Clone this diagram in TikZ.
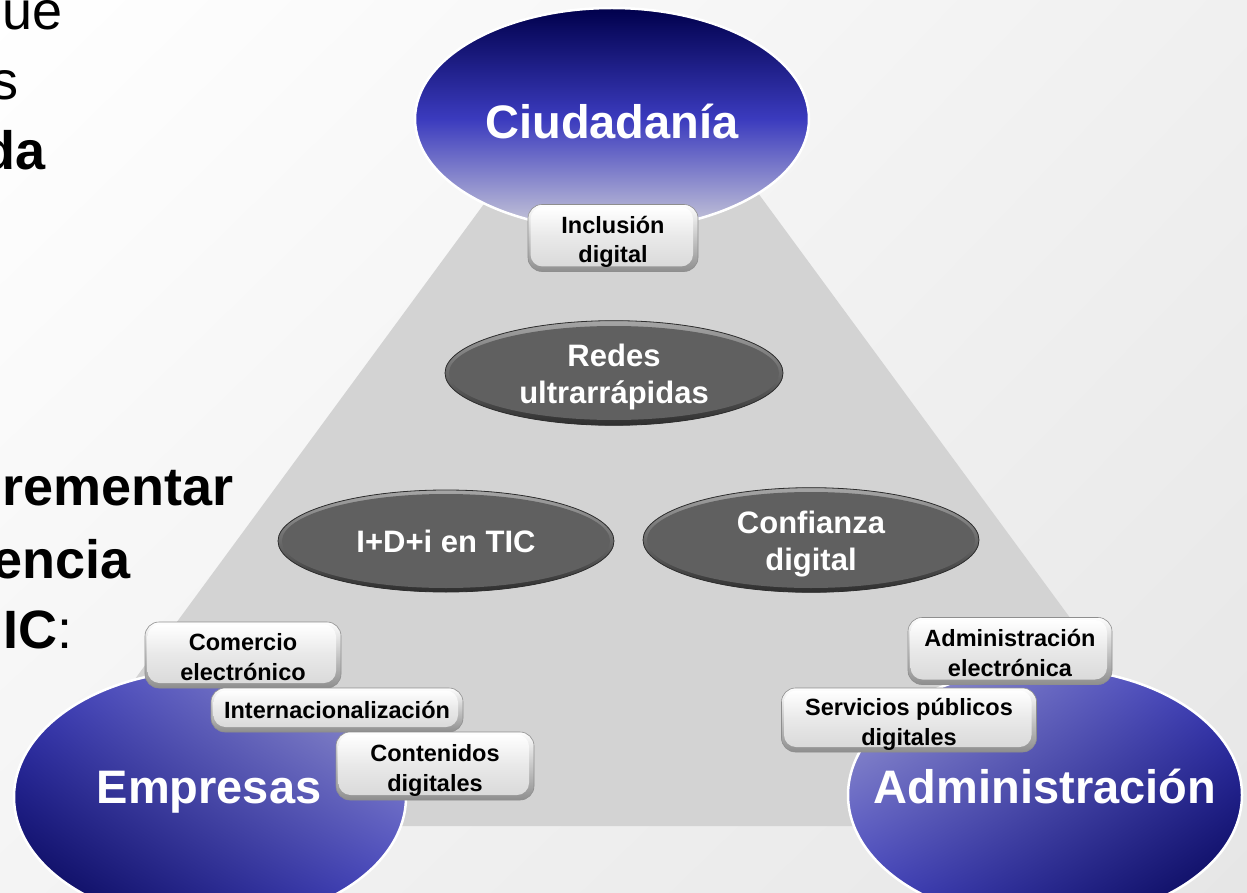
\documentclass[tikz,border=0pt]{standalone}
\usepackage{fontspec}
\setmainfont{Liberation Sans}
\usetikzlibrary{shapes.geometric,shadings}
\definecolor{trigray}{HTML}{D3D3D3}
\definecolor{navy}{HTML}{00004C}
\definecolor{midblue}{HTML}{3B3BBE}
\definecolor{lavlight}{HTML}{CBCBD9}
\definecolor{lavmid}{HTML}{A2A2CE}
\definecolor{darkfill}{HTML}{606060}
\definecolor{rimlight}{HTML}{A6A6A6}
\definecolor{rimdark}{HTML}{2E2E2E}
\definecolor{boxedge}{HTML}{8E8E8E}
\definecolor{boxbody}{HTML}{DADADA}
\definecolor{bgtr}{HTML}{F0F0F0}
\definecolor{bgbl}{HTML}{F4F4F4}
\definecolor{bgbr}{HTML}{E6E6E6}
\begin{document}
\begin{tikzpicture}[x=1pt,y=-1pt,
  bigell/.style n args={2}{ellipse, inner sep=0pt, minimum width=#1pt, minimum height=#2pt, draw=white, line width=2.5pt},
  bigtxt/.style={anchor=base, text=white, font=\fontsize{47}{50}\selectfont\bfseries, inner sep=0pt},
  darkell/.style n args={2}{ellipse, inner sep=0pt, minimum width=#1pt, minimum height=#2pt,
     fill=darkfill, draw=rimdark, line width=0.8pt, text=white, align=center,
     font=\fontsize{31}{37}\selectfont\bfseries,
     path picture={
       \shade[top color=rimlight, bottom color=rimdark] (path picture bounding box.south west) rectangle (path picture bounding box.north east);
       \fill[darkfill] (path picture bounding box.center) ellipse [x radius=#1pt/2-4pt, y radius=#2pt/2-4pt];
     }},
  twoline/.style={text height=67pt, text depth=7pt},
  lbox/.style n args={2}{rectangle, rounded corners=14pt, inner sep=0pt, minimum width=#1pt, minimum height=#2pt,
     draw=boxedge, line width=0.6pt, align=center, text=black, font=\fontsize{23.5}{29.5}\selectfont\bfseries,
     text height=55pt, text depth=5pt,
     path picture={
       \shade[top color=white, bottom color=boxedge] (path picture bounding box.south west) rectangle (path picture bounding box.north east);
       \shade[top color=white, bottom color=boxbody, middle color=boxbody!60!white, rounded corners=12pt] ([xshift=2.5pt,yshift=-2.5pt]path picture bounding box.north west) rectangle ([xshift=-5pt,yshift=5pt]path picture bounding box.south east);
     }},
  lefttxt/.style={anchor=base east, inner sep=0pt, text=black, font=\fontsize{54}{60}\selectfont},
  lefttxtb/.style={lefttxt, font=\fontsize{54}{60}\selectfont\bfseries}
]
\useasboundingbox (0,0) rectangle (1247,893);
\clip (0,0) rectangle (1247,893);
\shade[upper left=white, upper right=bgtr, lower left=bgbl, lower right=bgbr] (0,0) rectangle (1247,893);
% left cut-off slide text
\node[lefttxt] (t1) at (63,30) {ue};
\node[lefttxt] (t2) at (19,100) {s};
\node[lefttxtb] (t3) at (46,170) {da};
\node[lefttxtb] (t4) at (234,505) {rementar};
\node[lefttxtb] (t5) at (131,578) {encia};
\node[lefttxt] (t6) at (73,648) {\textbf{IC}:};
% triangle
\fill[trigray] (625,12) -- (27,826) -- (1223,826) -- cycle;
% big ellipses
\node[bigell={394}{222}, top color=navy, bottom color=lavlight, middle color=midblue] (ciud) at (612,119) {};
\node[bigell={392}{254}, upper right=lavmid, lower left=navy, upper left=midblue, lower right=midblue] (emp) at (210,797) {};
\node[bigell={394}{254}, upper left=lavmid, lower right=navy, upper right=midblue, lower left=midblue] (adm) at (1045,795) {};
\node[bigtxt] (ciudt) at (612,139) {Ciudadanía};
\node[bigtxt] (empt) at (209,803) {Empresas};
\node[bigtxt] (admt) at (1045,803) {Administración};
% dark ellipses
\node[darkell={338}{102}, twoline] (redes) at (614,373) {Redes\\ultrarrápidas};
\node[darkell={336}{102}] (idi) at (446,541) {I+D+i en TIC};
\node[darkell={336}{104}, twoline] (conf) at (811,540) {Confianza\\digital};
% light boxes
\node[lbox={170}{67}] (incl) at (613,238) {Inclusión\\digital};
\node[lbox={196}{66}] (comer) at (243,655) {Comercio\\electrónico};
\node[lbox={252}{44}, text height=17pt, text depth=0pt] (inter) at (337,710) {Internacionalización};
\node[lbox={198}{68}] (cont) at (435,766) {Contenidos\\digitales};
\node[lbox={204}{67}] (adme) at (1010,651) {Administración\\electrónica};
\node[lbox={255}{64}] (serv) at (909,720) {Servicios públicos\\digitales};
\end{tikzpicture}
\end{document}
